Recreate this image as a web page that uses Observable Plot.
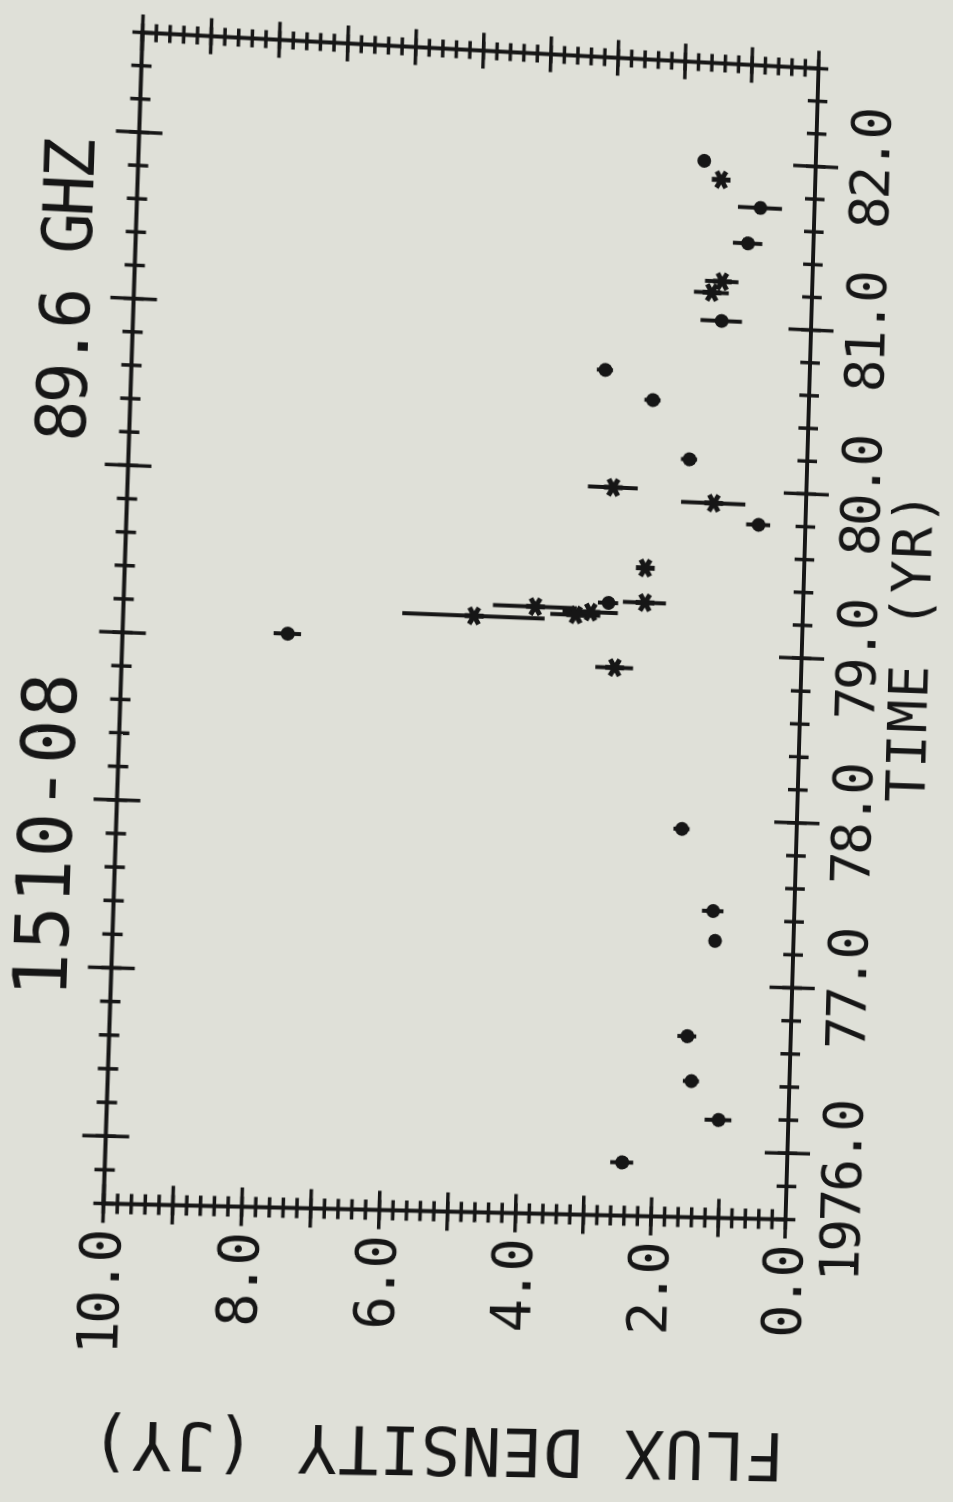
<!DOCTYPE html>
<html>
<head>
<meta charset="utf-8">
<script src="https://cdn.jsdelivr.net/npm/d3@7"></script>
<script src="https://cdn.jsdelivr.net/npm/@observablehq/plot@0.6"></script>
<style>
html, body { margin: 0; padding: 0; width: 953px; height: 1502px; overflow: hidden; background: #dfe0d8; }
#chart { position: absolute; left: 0; top: 0; }
</style>
</head>
<body>
<div id="chart"></div>
<script>
// ---------- data ----------
const titleText = "1510-08";
const freqText = "89.6 GHZ";
const xLabel = "TIME (YR)";
const yLabel = "FLUX DENSITY (JY)";

// filled circles
const dotTime = [75.92, 76.19, 76.42, 76.69, 77.27, 77.45, 77.94, 79.03, 79.29, 79.80, 80.18, 80.53, 80.70, 81.03, 81.51, 81.73, 82.00];
const dotFlux = [2.45, 1.04, 1.46, 1.54, 1.17, 1.21, 1.71, 7.60, 2.90, 0.70, 1.76, 2.33, 3.05, 1.34, 0.98, 0.81, 1.67];
const dotErr  = [0.17, 0.20, 0.12, 0.14, 0.00, 0.16, 0.12, 0.20, 0.15, 0.18, 0.12, 0.12, 0.12, 0.31, 0.22, 0.33, 0.00];

// asterisks
const starTime = [78.90, 79.18, 79.21, 79.23, 79.25, 79.30, 79.51, 79.92, 79.99, 81.20, 81.27, 81.89];
const starFlux = [2.78, 4.88, 3.38, 3.16, 3.98, 2.36, 2.37, 1.38, 2.88, 1.50, 1.35, 1.41];
const starErr  = [0.28, 1.05, 0.37, 0.41, 0.62, 0.32, 0.00, 0.48, 0.37, 0.26, 0.25, 0.00];

// ticks
const timeTickValues = [76, 77, 78, 79, 80, 81, 82];
const timeTickLabels = ["1976.0", "77.0", "78.0", "79.0", "80.0", "81.0", "82.0"];
const fluxTickValues = [0, 2, 4, 6, 8, 10];
const fluxTickLabels = ["0.0", "2.0", "4.0", "6.0", "8.0", "10.0"];
const timeDomain = [75.6, 82.6];
const fluxDomain = [0, 10];

// ---------- layout ----------
const ink = "#161616";
const W = 1520, H = 1000, ML = 300, MR = 60, MT = 140, MB = 179.5;
const font = "DejaVu Sans Mono";

const timeMinor = d3.range(0, 36).map(i => +(timeDomain[0] + i * 0.2).toFixed(1));
const timeMajor = timeTickValues;
const fluxMinor = d3.range(0, 51).map(i => +(i * 0.2).toFixed(1));
const fluxMajor = d3.range(0, 11);

const dots = dotTime.map((t, i) => ({t, f: dotFlux[i], e: dotErr[i]}));
const stars = starTime.map((t, i) => ({t, f: starFlux[i], e: starErr[i]}));
const timeLabels = timeTickValues.map((v, i) => ({v, s: timeTickLabels[i]}));
const fluxLabels = fluxTickValues.map((v, i) => ({v, s: fluxTickLabels[i]}));

const vline = {draw(c, s) { const r = Math.sqrt(s / Math.PI); c.moveTo(0, -r); c.lineTo(0, r); }};
const hline = {draw(c, s) { const r = Math.sqrt(s / Math.PI); c.moveTo(-r, 0); c.lineTo(r, 0); }};

const tickStyle = {fill: "none", stroke: ink, strokeWidth: 3.5};

const svg = Plot.plot({
  width: W, height: H,
  marginLeft: ML, marginRight: MR, marginTop: MT, marginBottom: MB,
  x: {domain: timeDomain, axis: null},
  y: {domain: fluxDomain, axis: null},
  style: {background: "transparent", color: ink},
  marks: [
    Plot.frame({stroke: ink, strokeWidth: 4}),
    // time ticks on bottom and top frame lines
    Plot.dot(timeMinor, {x: d => d, y: () => fluxDomain[0], symbol: vline, r: 10, ...tickStyle}),
    Plot.dot(timeMajor, {x: d => d, y: () => fluxDomain[0], symbol: vline, r: 23, ...tickStyle}),
    Plot.dot(timeMinor, {x: d => d, y: () => fluxDomain[1], symbol: vline, r: 10, ...tickStyle}),
    Plot.dot(timeMajor, {x: d => d, y: () => fluxDomain[1], symbol: vline, r: 23, ...tickStyle}),
    // flux ticks on left and right frame lines
    Plot.dot(fluxMinor, {x: () => timeDomain[0], y: d => d, symbol: hline, r: 10, ...tickStyle}),
    Plot.dot(fluxMajor, {x: () => timeDomain[0], y: d => d, symbol: hline, r: 19, ...tickStyle}),
    Plot.dot(fluxMinor, {x: () => timeDomain[1], y: d => d, symbol: hline, r: 9, ...tickStyle}),
    Plot.dot(fluxMajor, {x: () => timeDomain[1], y: d => d, symbol: hline, r: 18, ...tickStyle}),
    // error bars
    Plot.ruleX(dots.filter(d => d.e > 0), {x: "t", y1: d => d.f - d.e, y2: d => d.f + d.e, stroke: ink, strokeWidth: 4}),
    Plot.ruleX(stars.filter(d => d.e > 0), {x: "t", y1: d => d.f - d.e, y2: d => d.f + d.e, stroke: ink, strokeWidth: 4}),
    // points
    Plot.dot(dots, {x: "t", y: "f", r: 7, fill: ink, stroke: "none"}),
    Plot.dot(stars, {x: "t", y: "f", symbol: "asterisk", r: 9, stroke: ink, strokeWidth: 5}),
    // time tick labels
    Plot.text(timeLabels.slice(0, 1), {x: "v", y: () => fluxDomain[0], text: "s", dy: 36, dx: 53, textAnchor: "end", lineAnchor: "top", fontSize: 55, fontFamily: font, fill: ink}),
    Plot.text(timeLabels.slice(1), {x: "v", y: () => fluxDomain[0], text: "s", dy: 36, textAnchor: "middle", lineAnchor: "top", fontSize: 55, fontFamily: font, fill: ink}),
    // flux tick labels
    Plot.text(fluxLabels, {x: () => timeDomain[0], y: "v", text: "s", dx: -28, textAnchor: "end", lineAnchor: "middle", fontSize: 55, fontFamily: font, fill: ink}),
    // axis labels
    Plot.text([xLabel], {frameAnchor: "bottom", text: d => d, dy: 90, textAnchor: "middle", lineAnchor: "top", fontSize: 55, fontFamily: font, fill: ink}),
    Plot.text([yLabel], {frameAnchor: "left", text: d => d, dx: -235, rotate: -90, textAnchor: "middle", lineAnchor: "middle", fontSize: 66, fontFamily: font, fill: ink}),
    // titles
    Plot.text([titleText], {frameAnchor: "top-left", text: d => d, dx: 201, dy: -44, textAnchor: "start", lineAnchor: "bottom", fontSize: 73, fontFamily: font, fill: ink}),
    Plot.text([freqText], {frameAnchor: "top-left", text: d => d, dx: 750, dy: -44, textAnchor: "start", lineAnchor: "bottom", fontSize: 68, fontFamily: font, fill: ink})
  ]
});

// letter spacing of the plotter lettering
const spacing = new Map([
  ...timeTickLabels.map(s => [s, -3]),
  ...fluxTickLabels.map(s => [s, -3]),
  [titleText, 2], [freqText, -3.7], [xLabel, 2], [yLabel, 1]
]);
d3.select(svg).selectAll("text").each(function() {
  const s = this.textContent;
  if (spacing.has(s)) this.setAttribute("letter-spacing", spacing.get(s));
});

// map the plot frame onto the scanned page (rotated, slightly in perspective)
const quad = [[103, 1204], [142, 33], [818, 69], [785, 1220]]; // frame corners on the page: (t0,10),(t1,10),(t1,0),(t0,0)
function squareToQuad(p) {
  const [[x0, y0], [x1, y1], [x2, y2], [x3, y3]] = p;
  const dx1 = x1 - x2, dx2 = x3 - x2, dx3 = x0 - x1 + x2 - x3;
  const dy1 = y1 - y2, dy2 = y3 - y2, dy3 = y0 - y1 + y2 - y3;
  const den = dx1 * dy2 - dx2 * dy1;
  const g = (dx3 * dy2 - dx2 * dy3) / den, h = (dx1 * dy3 - dx3 * dy1) / den;
  return [[x1 - x0 + g * x1, x3 - x0 + h * x3, x0], [y1 - y0 + g * y1, y3 - y0 + h * y3, y0], [g, h, 1]];
}
const S = squareToQuad(quad);
const Wf = W - ML - MR, Hf = H - MT - MB;
const N = [[1 / Wf, 0, -ML / Wf], [0, 1 / Hf, -MT / Hf], [0, 0, 1]];
const Hm = S.map(row => [0, 1, 2].map(j => row[0] * N[0][j] + row[1] * N[1][j] + row[2] * N[2][j]));
const m3d = [Hm[0][0], Hm[1][0], 0, Hm[2][0], Hm[0][1], Hm[1][1], 0, Hm[2][1], 0, 0, 1, 0, Hm[0][2], Hm[1][2], 0, Hm[2][2]];

svg.style.position = "absolute";
svg.style.left = "0px";
svg.style.top = "0px";
svg.style.maxWidth = "none";
svg.style.width = W + "px";
svg.style.height = H + "px";
svg.style.overflow = "visible";
svg.style.transformOrigin = "0 0";
svg.style.transform = `matrix3d(${m3d.join(",")})`;
document.getElementById("chart").appendChild(svg);
</script>
</body>
</html>
